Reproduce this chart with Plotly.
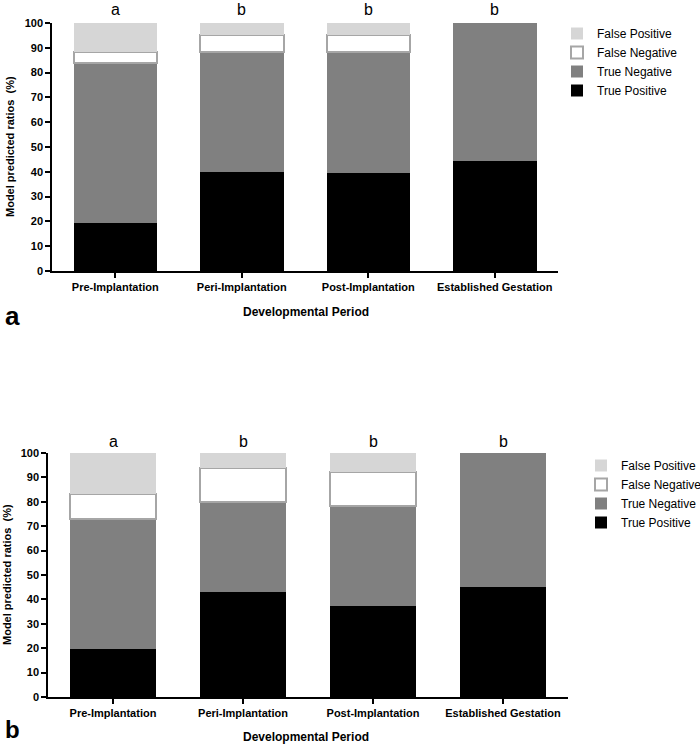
import plotly.graph_objects as go

categories = ["Pre-Implantation", "Peri-Implantation", "Post-Implantation", "Established Gestation"]
group_letters = ["a", "b", "b", "b"]

# Panel a
a_true_positive = [19.5, 39.8, 39.5, 44.2]
a_true_negative = [64.2, 48.6, 49.0, 55.8]
a_false_negative = [4.5, 6.8, 6.7, 0]
a_false_positive = [11.8, 4.8, 4.8, 0]

# Panel b
b_true_positive = [19.8, 43.0, 37.1, 45.1]
b_true_negative = [53.2, 36.8, 41.3, 54.9]
b_false_negative = [10.2, 13.9, 13.8, 0]
b_false_positive = [16.8, 6.3, 7.8, 0]

W, H = 700, 744
FONT = "Liberation Sans, Arial, sans-serif"


def px(x):
    return x / W


def py(y):
    return 1 - y / H


fig = go.Figure()

panels = [
    ("x", "y", "legend", a_true_positive, a_true_negative, a_false_negative, a_false_positive),
    ("x2", "y2", "legend2", b_true_positive, b_true_negative, b_false_negative, b_false_positive),
]

for xa, ya, lg, tp, tn, fn, fp in panels:
    fig.add_trace(go.Bar(x=categories, y=tp, name="True Positive", xaxis=xa, yaxis=ya, legend=lg,
                         marker=dict(color="#000000", line=dict(width=0))))
    fig.add_trace(go.Bar(x=categories, y=tn, name="True Negative", xaxis=xa, yaxis=ya, legend=lg,
                         marker=dict(color="#808080", line=dict(width=0))))
    fig.add_trace(go.Bar(x=categories, y=fn, name="False Negative", xaxis=xa, yaxis=ya, legend=lg,
                         marker=dict(color="#ffffff",
                                     line=dict(color="#a6a6a6", width=[2 if v > 0 else 0 for v in fn]))))
    fig.add_trace(go.Bar(x=categories, y=fp, name="False Positive", xaxis=xa, yaxis=ya, legend=lg,
                         marker=dict(color="#d6d6d6", line=dict(width=0))))

axis_common = dict(showline=True, linecolor="black", linewidth=1.5, ticks="outside",
                   tickcolor="black", ticklen=5, tickwidth=1.5, showgrid=False, zeroline=False,
                   automargin=False,
                   tickfont=dict(family=FONT, size=11, color="black", weight="bold"))

fig.update_layout(
    width=W, height=H,
    margin=dict(l=0, r=0, t=0, b=0, autoexpand=False),
    paper_bgcolor="white", plot_bgcolor="white",
    barmode="stack", bargap=0.34,
    font=dict(family=FONT, color="black"),
    xaxis=dict(domain=[px(52), px(558)], anchor="y", range=[-0.5, 3.5], **axis_common),
    yaxis=dict(domain=[py(271), py(23)], anchor="x", range=[0, 100], dtick=10, **axis_common),
    xaxis2=dict(domain=[px(48), px(568)], anchor="y2", range=[-0.5, 3.5], **axis_common),
    yaxis2=dict(domain=[py(697), py(453)], anchor="x2", range=[0, 100], dtick=10, **axis_common),
    legend=dict(x=px(557), y=py(19), xanchor="left", yanchor="top", traceorder="reversed",
                font=dict(family=FONT, size=12, color="black"), bgcolor="rgba(0,0,0,0)"),
    legend2=dict(x=px(581), y=py(451), xanchor="left", yanchor="top", traceorder="reversed",
                 font=dict(family=FONT, size=12, color="black"), bgcolor="rgba(0,0,0,0)"),
)

annotations = []
for cat, letter in zip(categories, group_letters):
    annotations.append(dict(x=cat, y=py(10), xref="x", yref="paper", text=letter, showarrow=False,
                            font=dict(family=FONT, size=16, color="black"),
                            xanchor="center", yanchor="middle"))
    annotations.append(dict(x=cat, y=py(441), xref="x2", yref="paper", text=letter, showarrow=False,
                            font=dict(family=FONT, size=16, color="black"),
                            xanchor="center", yanchor="middle"))

# axis titles and panel labels
annotations += [
    dict(x=px(10), y=py(147), text="Model predicted ratios  (%)", textangle=-90,
         font=dict(family=FONT, size=11, color="black", weight="bold")),
    dict(x=px(7), y=py(575), text="Model predicted ratios  (%)", textangle=-90,
         font=dict(family=FONT, size=11, color="black", weight="bold")),
    dict(x=px(306), y=py(312), text="Developmental Period",
         font=dict(family=FONT, size=12, color="black", weight="bold")),
    dict(x=px(306), y=py(737), text="Developmental Period",
         font=dict(family=FONT, size=12, color="black", weight="bold")),
    dict(x=px(12), y=py(316), text="a",
         font=dict(family=FONT, size=26, color="black", weight="bold")),
    dict(x=px(12), y=py(729), text="b",
         font=dict(family=FONT, size=24, color="black", weight="bold")),
]
for ann in annotations[len(categories) * 2:]:
    ann.update(xref="paper", yref="paper", showarrow=False, xanchor="center", yanchor="middle")
fig.update_layout(annotations=annotations)

fig.write_html("out.html", config={"displayModeBar": False},
               post_script="document.body.style.margin='0px';")
